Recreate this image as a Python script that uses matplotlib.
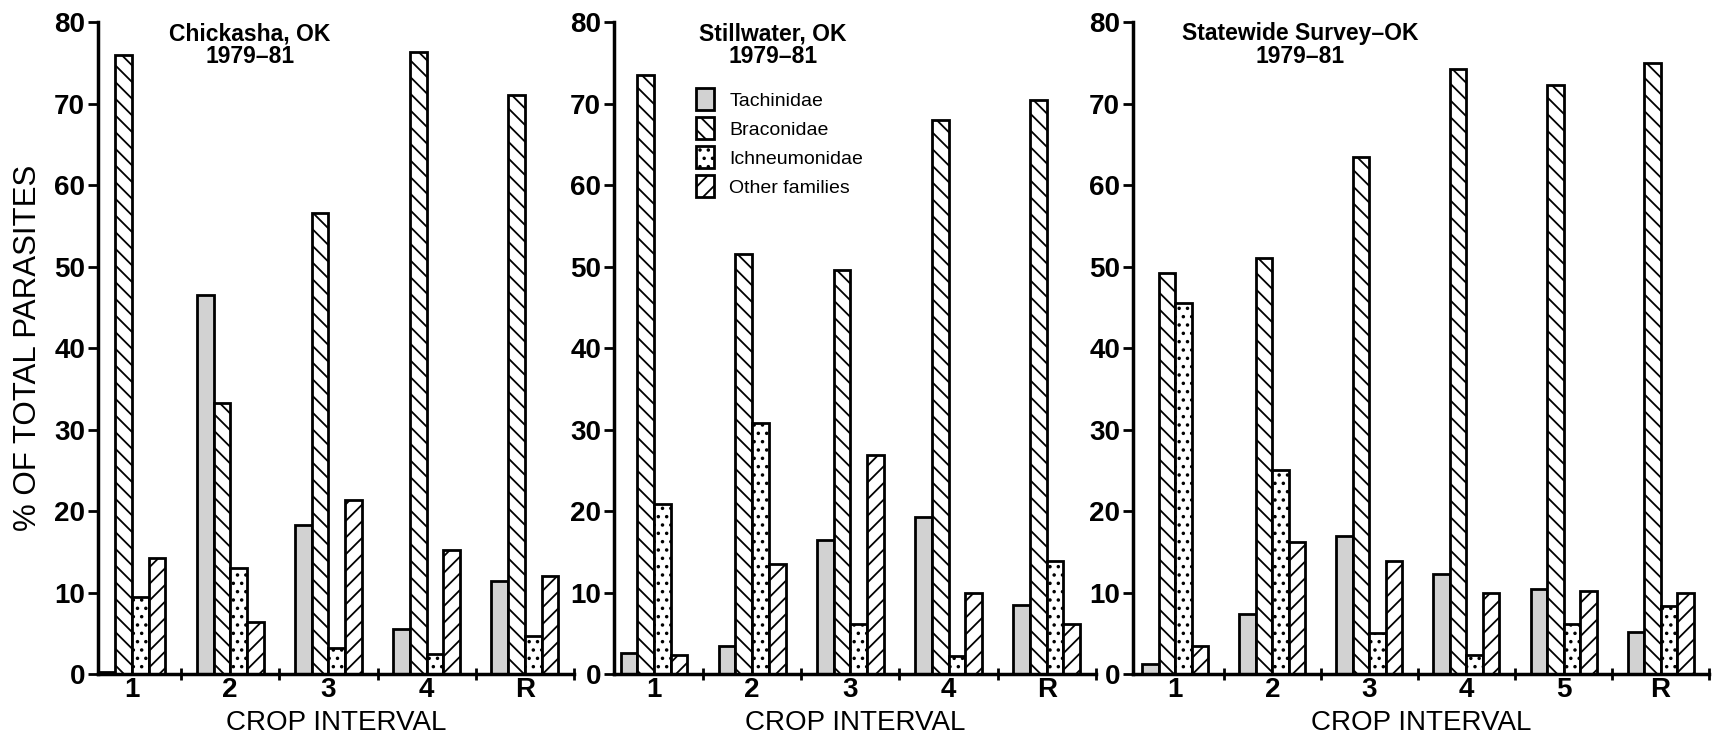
import numpy as np
import matplotlib
matplotlib.use('Agg')
from matplotlib import pyplot as plt

plt.rcParams['font.family'] = ['Liberation Sans', 'DejaVu Sans']
plt.rcParams['hatch.linewidth'] = 1.3

families = ['Tachinidae', 'Braconidae', 'Ichneumonidae', 'Other families']

chick_labels = ['1', '2', '3', '4', 'R']
chick_tach = [0.3, 46.5, 18.3, 5.5, 11.4]
chick_brac = [76.0, 33.3, 56.6, 76.3, 71.1]
chick_ichn = [9.5, 13.0, 3.2, 2.5, 4.7]
chick_other = [14.2, 6.4, 21.4, 15.2, 12.1]

still_labels = ['1', '2', '3', '4', 'R']
still_tach = [2.6, 3.5, 16.5, 19.3, 8.5]
still_brac = [73.5, 51.5, 49.6, 68.0, 70.4]
still_ichn = [20.9, 30.8, 6.1, 2.2, 13.9]
still_other = [2.4, 13.5, 26.9, 10.0, 6.2]

state_labels = ['1', '2', '3', '4', '5', 'R']
state_tach = [1.2, 7.4, 16.9, 12.3, 10.5, 5.2]
state_brac = [49.2, 51.0, 63.5, 74.2, 72.3, 75.0]
state_ichn = [45.5, 25.1, 5.1, 2.4, 6.1, 8.4]
state_other = [3.5, 16.2, 13.9, 9.9, 10.2, 9.9]

# fill / hatch per family
faces = ['#d2d2d2', 'white', 'white', 'white']
hatches = ['', '\\\\', '..', '//']

panels = [
    ('Chickasha, OK\n1979\u201381', chick_labels,
     [chick_tach, chick_brac, chick_ichn, chick_other]),
    ('Stillwater, OK\n1979\u201381', still_labels,
     [still_tach, still_brac, still_ichn, still_other]),
    ('Statewide Survey\u2013OK\n1979\u201381', state_labels,
     [state_tach, state_brac, state_ichn, state_other]),
]

fig = plt.figure(figsize=(17.16, 7.36), dpi=100)
boxes = [(0.0569, 0.084, 0.2776, 0.886),
         (0.3576, 0.084, 0.2810, 0.886),
         (0.6600, 0.084, 0.3360, 0.886)]
lefts = [-0.35, -0.41, -0.44]
title_x = [0.32, 0.33, 0.29]

w = 0.17
for k, (title, labels, series) in enumerate(panels):
    ax = fig.add_axes(boxes[k])
    x = np.arange(len(labels))
    for j, vals in enumerate(series):
        ax.bar(x + (j - 1.5) * w, vals, w, color=faces[j], edgecolor='black',
               hatch=hatches[j], linewidth=2.0, label=families[j])
    ax.set_xlim(lefts[k], len(labels) - 0.5)
    ax.set_ylim(0, 80)
    for s in ['top', 'right']:
        ax.spines[s].set_visible(False)
    for s in ['left', 'bottom']:
        ax.spines[s].set_linewidth(2.5)
    ax.set_yticks(range(0, 81, 10))
    ax.set_yticklabels([str(v) for v in range(0, 81, 10)],
                       fontsize=20, fontweight='bold')
    ax.tick_params(axis='y', direction='out', length=7, width=2, pad=2)
    ax.set_xticks(x)
    ax.set_xticklabels(labels, fontsize=20, fontweight='bold')
    ax.tick_params(axis='x', which='major', length=0, pad=2)
    ax.set_xticks(x + 0.5, minor=True)
    ax.tick_params(axis='x', which='minor', direction='inout', length=9, width=2)
    ax.set_xlabel('CROP INTERVAL', fontsize=20, labelpad=5)
    ax.text(title_x[k], 1.0, title, transform=ax.transAxes, ha='center',
            va='top', fontsize=16.5, fontweight='bold', linespacing=1.0)
    if k == 0:
        ax.set_ylabel('% OF TOTAL PARASITES', fontsize=22.5, labelpad=8)
    if k == 1:
        ax.legend(loc='upper left', bbox_to_anchor=(0.135, 0.925), frameon=False,
                  fontsize=14, handlelength=0.9, handleheight=1.3,
                  labelspacing=0.4, handletextpad=0.8)

plt.savefig('out.png', dpi=100)
